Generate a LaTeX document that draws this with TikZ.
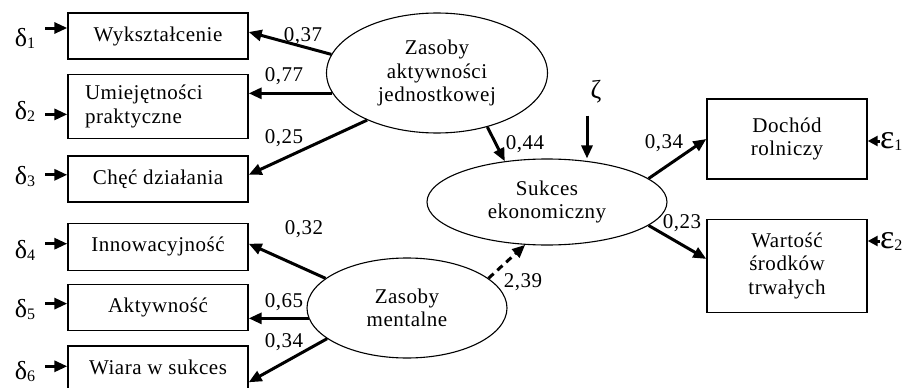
\documentclass[tikz,border=0pt]{standalone}
\usepackage{fontspec}
\setmainfont{Liberation Serif}[LetterSpace=2.5]
\newfontfamily\greekfont{Liberation Serif}
\newcommand{\errsub}[1]{\raisebox{-2pt}{\fontsize{16}{16}\selectfont #1}}
\usetikzlibrary{arrows.meta,positioning,shapes.geometric}

\begin{document}
\begin{tikzpicture}[
  x=1pt, y=-1pt,
  every node/.style={font=\fontsize{21}{23.5}\selectfont},
  indicator/.style={draw, line width=1.4pt, minimum width=180pt, minimum height=46pt, inner sep=4pt, align=center},
  latent/.style={draw, ellipse, line width=1.1pt, inner sep=0pt, align=center},
  errterm/.style={inner sep=0pt, font=\greekfont\fontsize{26}{28}\selectfont},
  epsterm/.style={inner sep=0pt, anchor=west, font=\greekfont\fontsize{34}{36}\selectfont},
  coef/.style={inner sep=0pt},
  arr/.style={-{Triangle[length=13pt,width=11pt]}, line width=3pt},
  sarr/.style={-{Triangle[length=10pt,width=10pt]}, line width=3pt},
  darr/.style={arr, dash pattern=on 7pt off 5pt}
]
  \useasboundingbox (0,0) rectangle (911,388);

  \node[indicator] (wyk) at (158,36) {Wykształcenie};
  \node[indicator, below=14pt of wyk, minimum height=64pt, text width=146pt, inner xsep=17pt, align=left] (umi) {Umiejętności\\praktyczne};
  \node[indicator, below=16pt of umi] (che) {Chęć działania};
  \node[indicator, below=20pt of che, minimum height=47pt] (inn) {Innowacyjność};
  \node[indicator, below=13pt of inn] (akt) {Aktywność};
  \node[indicator, below=14pt of akt, inner ysep=14pt, text depth=12pt] (wia) {Wiara w sukces};

  \node[latent, minimum width=221pt, minimum height=120pt] (zak) at (437,73) {Zasoby\\aktywności\\jednostkowej};
  \node[latent, minimum width=240pt, minimum height=86pt] (suk) at (547,202) {Sukces\\ekonomiczny};
  \node[latent, minimum width=200pt, minimum height=100pt] (zam) at (407,308) {Zasoby\\mentalne};

  \node[indicator, minimum width=160pt, minimum height=80pt] (doc) at (787,139) {Dochód\\rolniczy};
  \node[indicator, minimum width=160pt, minimum height=93pt, below=39pt of doc] (war) {Wartość\\środków\\trwałych};

  \node[errterm] (d1) at (25,38) {δ\errsub{1}};
  \node[errterm] (d2) at (25,111) {δ\errsub{2}};
  \node[errterm] (d3) at (25,176) {δ\errsub{3}};
  \node[errterm] (d4) at (25,250) {δ\errsub{4}};
  \node[errterm] (d5) at (25,309) {δ\errsub{5}};
  \node[errterm] (d6) at (25,371) {δ\errsub{6}};
  \node[epsterm] (e1) at (880,141) {ε\errsub{1}};
  \node[epsterm] (e2) at (880,241) {ε\errsub{2}};
  \node[errterm] (zeta) at (596,92) {ζ};

  \draw[arr] ([xshift=-22pt,yshift=8pt]wyk.west) -- ([yshift=8pt]wyk.west);
  \draw[arr] ([xshift=-22pt,yshift=-8pt]umi.west) -- ([yshift=-8pt]umi.west);
  \draw[arr] ([xshift=-22pt,yshift=4pt]che.west) -- ([yshift=4pt]che.west);
  \draw[arr] ([xshift=-22pt,yshift=3pt]inn.west) -- ([yshift=3pt]inn.west);
  \draw[arr] ([xshift=-22pt,yshift=4pt]akt.west) -- ([yshift=4pt]akt.west);
  \draw[arr] ([xshift=-22pt,yshift=7pt]wia.west) -- ([yshift=7pt]wia.west);
  \draw[sarr] (e1.west) -- (e1.west -| doc.east);
  \draw[sarr] (e2.west) -- (e2.west -| war.east);
  \coordinate (zt) at ([xshift=-9pt,yshift=-12pt]zeta.south);
  \draw[arr] (zt) -- (zt |- suk.north);

  \draw[arr] (zak.170) -- ([yshift=4pt]wyk.east);
  \draw[arr] (zak.191) -- (zak.191 -| umi.east);
  \draw[arr] (zak.214) -- ([yshift=4pt]che.east);
  \draw[arr] (zak.313) -- (suk.136);
  \draw[arr] (suk.13) -- (doc.west);
  \draw[arr] (suk.347) -- ([yshift=7pt]war.west);
  \draw[arr] (zam.160) -- ([yshift=3pt]inn.east);
  \draw[arr] (zam.186) -- (zam.186 -| akt.east);
  \draw[arr] (zam.201) -- ([yshift=-9pt]wia.east);
  \draw[darr] (zam.20) -- (suk.243);

  \node[coef] (c37) at (303,36) {0,37};
  \node[coef] (c77) at (284,76) {0,77};
  \node[coef] (c25) at (284,138) {0,25};
  \node[coef] (c44) at (525,144) {0,44};
  \node[coef] (c34a) at (664,143) {0,34};
  \node[coef] (c23) at (682,223) {0,23};
  \node[coef] (c32) at (304,229) {0,32};
  \node[coef] (c65) at (284,302) {0,65};
  \node[coef] (c34b) at (284,342) {0,34};
  \node[coef] (c239) at (523,282) {2,39};
\end{tikzpicture}
\end{document}
